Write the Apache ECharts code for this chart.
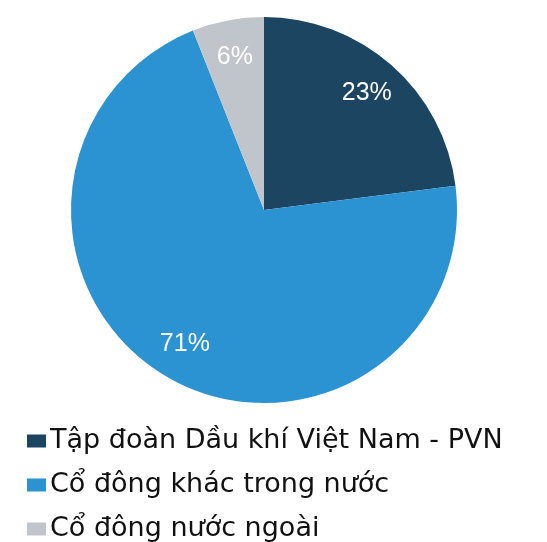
<!DOCTYPE html>
<html>
<head>
<meta charset="utf-8">
<script src="https://cdn.jsdelivr.net/npm/echarts@6/dist/echarts.min.js"></script>
<style>
  html, body { margin: 0; padding: 0; background: #fff; }
  #chart { width: 547px; height: 542px; }
</style>
</head>
<body>
<div id="chart"></div>
<script>
  const categories = ['Tập đoàn Dầu khí Việt Nam - PVN', 'Cổ đông khác trong nước', 'Cổ đông nước ngoài'];
  const shares = [23, 71, 6];
  const colors = ['#1b4560', '#2b93d1', '#c0c4cb'];

  const chart = echarts.init(document.getElementById('chart'));
  const pieData = categories.map((name, i) => ({ value: shares[i], name: name }));

  chart.setOption({
    animation: false,
    color: colors,
    legend: {
      orient: 'vertical',
      left: 22,
      top: 422,
      height: 120,
      data: categories,
      icon: 'rect',
      itemWidth: 19,
      itemHeight: 13,
      itemGap: 16,
      textStyle: {
        fontFamily: 'DejaVu Sans, sans-serif',
        fontSize: 27,
        lineHeight: 28,
        color: '#111',
        padding: [0, 0, 0, -1]
      }
    },
    series: [
      {
        name: 'Cơ cấu cổ đông',
        type: 'pie',
        center: [264, 210],
        radius: 193,
        startAngle: 90,
        clockwise: true,
        silent: true,
        label: { show: false },
        labelLine: { show: false },
        data: pieData
      },
      {
        // transparent ring used only to place the % labels further out
        name: 'labels',
        type: 'pie',
        center: [264, 210],
        radius: [112, 193],
        startAngle: 90,
        clockwise: true,
        silent: true,
        itemStyle: { color: 'rgba(0,0,0,0)' },
        label: {
          show: true,
          position: 'inside',
          formatter: '{c}%',
          color: '#fff',
          fontFamily: 'Liberation Sans, Arial, sans-serif',
          fontSize: 25
        },
        labelLine: { show: false },
        data: pieData
      }
    ]
  });
</script>
</body>
</html>
